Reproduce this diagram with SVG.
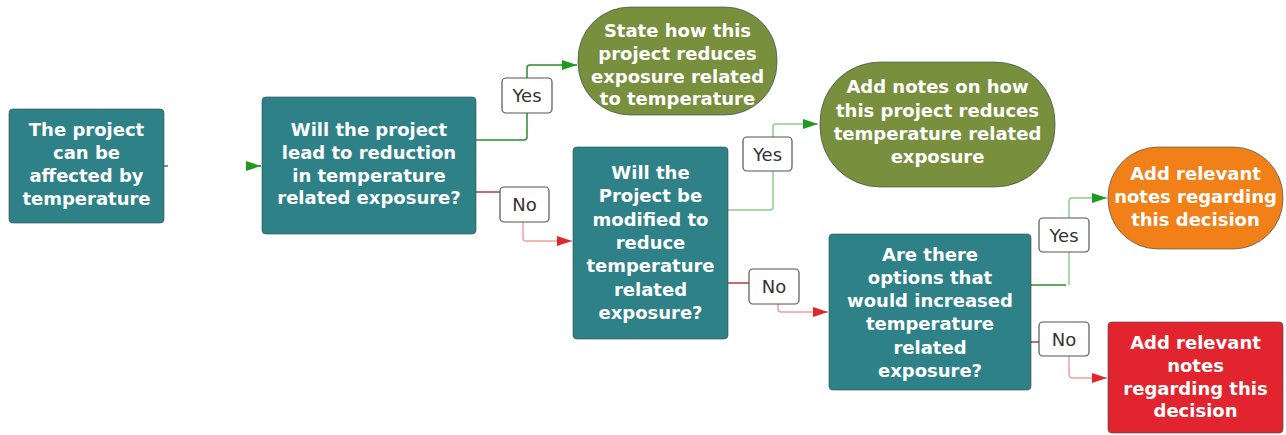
<svg xmlns="http://www.w3.org/2000/svg" width="1286" height="435" viewBox="0 0 1286 435">
<style>
.node{stroke:#2b4a4c;stroke-opacity:0.6;stroke-width:1}
.teal{fill:#2e8187}
.olive{fill:#788f3e}
.orange{fill:#f28019}
.red{fill:#e1242d}
.nt{font-family:"DejaVu Sans",sans-serif;font-weight:bold;font-size:18px;fill:#ffffff;text-anchor:middle}
.lbl rect{fill:#ffffff;stroke:#555;stroke-width:1.2}
.lbl text{font-family:"DejaVu Sans",sans-serif;font-size:18px;fill:#333;text-anchor:middle}
.g1{fill:none;stroke:#2e8b2e;stroke-width:1.5}
.g2{fill:none;stroke:#8ccf8c;stroke-width:1.5}
.r1{fill:none;stroke:#b83a3a;stroke-width:1.5}
.r2{fill:none;stroke:#eea0a0;stroke-width:1.5}
</style>
<defs>
<marker id="ag" markerUnits="userSpaceOnUse" markerWidth="16" markerHeight="12" refX="15" refY="6" orient="auto"><path d="M0,1 L15,6 L0,11 Z" fill="#1e9a1e"/></marker>
<marker id="ar" markerUnits="userSpaceOnUse" markerWidth="16" markerHeight="12" refX="15" refY="6" orient="auto"><path d="M0,1 L15,6 L0,11 Z" fill="#e3262b"/></marker>
</defs>
<rect width="1286" height="435" fill="#ffffff"/>
<g id="connectors">
<path class="g1" d="M164,166 L168,166"/>
<path class="g1" d="M246,166 L261,166" marker-end="url(#ag)"/>
<path class="g1" d="M476,140 L524,140 Q527,140 527,137 L527,68 Q527,65 530,65 L577,65" marker-end="url(#ag)"/>
<path class="r1" d="M476,192 L500,192"/>
<path class="r2" d="M523,222 L523,238 Q523,241 526,241 L572,241" marker-end="url(#ar)"/>
<path class="g2" d="M728,210 L770,210 Q773,210 773,207 L773,127 Q773,124 776,124 L818,124" marker-end="url(#ag)"/>
<path class="r1" d="M728,283 L749,283"/>
<path class="r2" d="M778,304 L778,309 Q778,312 781,312 L828,312" marker-end="url(#ar)"/>
<path class="g1" d="M1031,285 L1066,285"/>
<path class="g2" d="M1069,285 L1069,201 Q1069,198 1072,198 L1107,198" marker-end="url(#ag)"/>
<path class="r1" d="M1031,342 L1039,342"/>
<path class="r2" d="M1069,356 L1069,374 Q1069,378 1073,378 L1107,378" marker-end="url(#ar)"/>
</g>
<g id="labels">
<g class="lbl" id="lbl-yes1"><rect x="502" y="78" width="50" height="35" rx="4"/><text x="527" y="101.5">Yes</text></g>
<g class="lbl" id="lbl-no1"><rect x="500" y="187" width="49" height="35" rx="4"/><text x="524.5" y="210.5">No</text></g>
<g class="lbl" id="lbl-yes2"><rect x="743" y="137" width="49" height="34" rx="4"/><text x="767.5" y="160.5">Yes</text></g>
<g class="lbl" id="lbl-no2"><rect x="749" y="269" width="50" height="35" rx="4"/><text x="774" y="292.5">No</text></g>
<g class="lbl" id="lbl-yes3"><rect x="1039" y="218" width="50" height="34" rx="4"/><text x="1064" y="241.5">Yes</text></g>
<g class="lbl" id="lbl-no3"><rect x="1039" y="322" width="50" height="34" rx="4"/><text x="1064" y="345.5">No</text></g>
</g>
<g id="n1"><rect class="node teal" x="9" y="109" width="155" height="114" rx="4"/>
<text class="nt" x="86.5"><tspan x="86.5" y="135.5">The project</tspan><tspan x="86.5" y="158.5">can be</tspan><tspan x="86.5" y="182">affected by</tspan><tspan x="86.5" y="204.5">temperature</tspan></text></g>
<g id="n2"><rect class="node teal" x="262" y="97" width="214" height="137" rx="4"/>
<text class="nt"><tspan x="369" y="135.5">Will the project</tspan><tspan x="369" y="158.5">lead to reduction</tspan><tspan x="369" y="181.5">in temperature</tspan><tspan x="369" y="203.5">related exposure?</tspan></text></g>
<g id="n3"><rect class="node olive" x="578" y="7" width="199" height="108" rx="52"/>
<text class="nt"><tspan x="677.5" y="36.5">State how this</tspan><tspan x="677.5" y="59.5">project reduces</tspan><tspan x="677.5" y="82.5">exposure related</tspan><tspan x="677.5" y="104.5">to temperature</tspan></text></g>
<g id="n4"><rect class="node teal" x="573" y="147" width="155" height="192" rx="4"/>
<text class="nt"><tspan x="650.5" y="178.5">Will the</tspan><tspan x="650.5" y="202">Project be</tspan><tspan x="650.5" y="225.5">modified to</tspan><tspan x="650.5" y="248.5">reduce</tspan><tspan x="650.5" y="272">temperature</tspan><tspan x="650.5" y="295.5">related</tspan><tspan x="650.5" y="318.5">exposure?</tspan></text></g>
<g id="n5"><rect class="node olive" x="820" y="62" width="235" height="125" rx="60"/>
<text class="nt"><tspan x="937.5" y="93">Add notes on how</tspan><tspan x="937.5" y="116.5">this project reduces</tspan><tspan x="937.5" y="139.5">temperature related</tspan><tspan x="937.5" y="163">exposure</tspan></text></g>
<g id="n6"><rect class="node teal" x="829" y="234" width="202" height="156" rx="4"/>
<text class="nt"><tspan x="930" y="260.5">Are there</tspan><tspan x="930" y="283.5">options that</tspan><tspan x="930" y="307">would increased</tspan><tspan x="930" y="330">temperature</tspan><tspan x="930" y="353.5">related</tspan><tspan x="930" y="376.5">exposure?</tspan></text></g>
<g id="n7"><rect class="node orange" x="1108" y="147" width="175" height="102" rx="50"/>
<text class="nt"><tspan x="1195.5" y="179.5">Add relevant</tspan><tspan x="1195.5" y="203">notes regarding</tspan><tspan x="1195.5" y="225.5">this decision</tspan></text></g>
<g id="n8"><rect class="node red" x="1108" y="322" width="175" height="111" rx="4"/>
<text class="nt"><tspan x="1195.5" y="348.5">Add relevant</tspan><tspan x="1195.5" y="371.5">notes</tspan><tspan x="1195.5" y="394.5">regarding this</tspan><tspan x="1195.5" y="416.5">decision</tspan></text></g>
</svg>
